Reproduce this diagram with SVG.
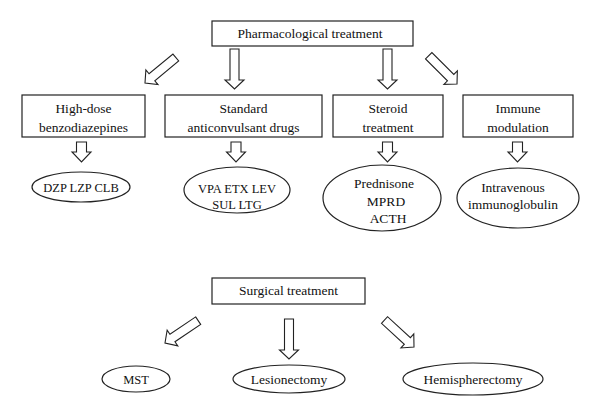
<svg xmlns="http://www.w3.org/2000/svg" width="600" height="415" viewBox="0 0 600 415">
<defs>
<style>
.box{fill:#fff;stroke:#222;stroke-width:1.2}
.ell{fill:#fff;stroke:#222;stroke-width:1.2}
.arr{fill:#fff;stroke:#222;stroke-width:1.1;stroke-linejoin:miter}
text{font-family:"Liberation Serif","Times New Roman",serif;font-size:13.5px;fill:#111;text-anchor:middle}
.caps{font-size:12.5px}
</style>
<path id="bigArrow" d="M-4.5,-40 H4.5 V-9 H9.5 L0,0 L-9.5,-9 H-4.5 Z"/>
<path id="smallArrow" d="M-5,-20 H5 V-10 H9.5 L0,0 L-9.5,-10 H-5 Z"/>
</defs>
<rect width="600" height="415" fill="#fff"/>

<g id="connectors">
<use href="#bigArrow" class="arr" transform="translate(234.5,89)"/>
<use href="#bigArrow" class="arr" transform="translate(387.5,89)"/>
<use href="#bigArrow" class="arr" transform="translate(145,83) rotate(50.4)"/>
<use href="#bigArrow" class="arr" transform="translate(457,84) rotate(-45)"/>
<use href="#smallArrow" class="arr" transform="translate(81.5,162)"/>
<use href="#smallArrow" class="arr" transform="translate(236,162)"/>
<use href="#smallArrow" class="arr" transform="translate(387.5,162)"/>
<use href="#smallArrow" class="arr" transform="translate(517.5,162)"/>
<use href="#bigArrow" class="arr" transform="translate(289,359)"/>
<use href="#bigArrow" class="arr" transform="translate(165,343) rotate(56)"/>
<use href="#bigArrow" class="arr" transform="translate(414,347) rotate(-47.5)"/>
</g>

<g id="pharmacological">
<rect class="box" x="212" y="21" width="201" height="25"/>
<text x="310" y="38">Pharmacological treatment</text>
</g>
<g id="high-dose">
<rect class="box" x="22" y="95" width="123" height="42"/>
<text x="83.5" y="113">High-dose</text>
<text x="83.5" y="132">benzodiazepines</text>
</g>
<g id="standard">
<rect class="box" x="165" y="95" width="157" height="42"/>
<text x="243.5" y="113">Standard</text>
<text x="243.5" y="132">anticonvulsant drugs</text>
</g>
<g id="steroid">
<rect class="box" x="333" y="95" width="110" height="42"/>
<text x="388" y="113">Steroid</text>
<text x="388" y="132">treatment</text>
</g>
<g id="immune">
<rect class="box" x="463" y="95" width="110" height="42"/>
<text x="518" y="113">Immune</text>
<text x="518" y="132">modulation</text>
</g>
<g id="dzp">
<ellipse class="ell" cx="81" cy="187" rx="49" ry="15"/>
<text class="caps" x="81" y="191.5">DZP LZP CLB</text>
</g>
<g id="vpa">
<ellipse class="ell" cx="237" cy="190" rx="53" ry="23"/>
<text class="caps" x="237" y="193">VPA ETX LEV</text>
<text class="caps" x="237" y="208.5">SUL LTG</text>
</g>
<g id="prednisone">
<ellipse class="ell" cx="382" cy="198" rx="59" ry="33"/>
<text x="384" y="188">Prednisone</text>
<text x="386" y="206">MPRD</text>
<text x="388" y="223">ACTH</text>
</g>
<g id="ivig">
<ellipse class="ell" cx="518" cy="198" rx="61" ry="30"/>
<text x="513" y="192">Intravenous</text>
<text x="513" y="209">immunoglobulin</text>
</g>
<g id="surgical">
<rect class="box" x="212" y="278" width="153" height="26"/>
<text x="288.5" y="295">Surgical treatment</text>
</g>
<g id="mst">
<ellipse class="ell" cx="136" cy="379" rx="34" ry="13"/>
<text class="caps" x="136" y="384">MST</text>
</g>
<g id="lesionectomy">
<ellipse class="ell" cx="289" cy="379" rx="56" ry="14"/>
<text x="289" y="384">Lesionectomy</text>
</g>
<g id="hemispherectomy">
<ellipse class="ell" cx="473" cy="379" rx="70" ry="16"/>
<text x="473" y="384">Hemispherectomy</text>
</g>
</svg>
